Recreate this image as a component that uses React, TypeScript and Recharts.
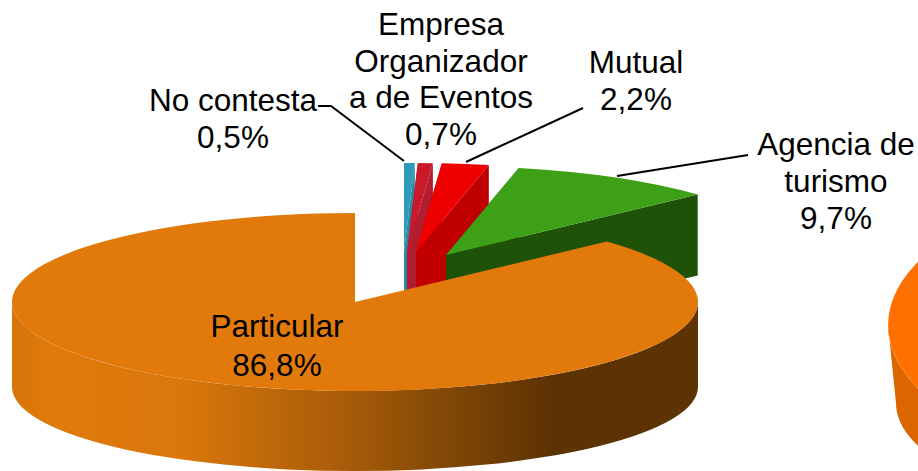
import { PieChart, Pie } from 'recharts';

const categories = ['No contesta', 'Empresa Organizador a de Eventos', 'Mutual', 'Agencia de turismo', 'Particular'];
const shares = [0.5, 0.7, 2.2, 9.7, 86.8];
const neighbourCategories = ['Otro'];
const neighbourShares = [100];

const topColors = ['#2E9BB9', '#C9192B', '#EE0000', '#3EA016', '#E17A0B'];
const wallColors = ['#2888A6', '#B11D2F', '#C00000', '#1F5209', 'url(#particularWall)'];

// where each exploded slice ended up, relative to the common centre
const CENTER_X = 405;
const CENTER_Y = 272;
const explodeX = [-1, 2, 11, 41, -50];
const explodeY = [-20, -20, -20, -17, 30];

const labelLines = [
  ['No contesta', '0,5%'],
  ['Empresa', 'Organizador', 'a de Eventos', '0,7%'],
  ['Mutual', '2,2%'],
  ['Agencia de', 'turismo', '9,7%'],
  ['Particular', '86,8%'],
];
const labelX = [233, 441, 636, 836, 277];
const labelTop = [111, 35, 73, 155, 337];
const labelStep = [37, 36.5, 37, 37, 39];
const leaders = ['318,106 331,106 404,161', '', '583,108 466,162', '748,155 617,176', ''];

const mainData = categories.map((name, i) => ({ name, value: shares[i], idx: i, fill: topColors[i] }));
const neighbourData = neighbourCategories.map((name, i) => ({ name, value: neighbourShares[i], fill: '#FF7000' }));

const RAD = Math.PI / 180;

interface SliceStyle {
  ry: number;
  radialH: number;
  wallH: number;
  bottomRx: number;
  bottomRy: number;
  dx: (i: number) => number;
  dy: (i: number) => number;
  wall: (i: number) => string;
}

// 3D slice: flattened top face, radial cuts and the front part of the rim
function makeSlice(st: SliceStyle) {
  return function Slice(props: any) {
    const { cx, cy, outerRadius: rx, startAngle, endAngle, fill, index } = props;
    const i = props.payload?.idx ?? index ?? 0;
    const x0 = cx + st.dx(i);
    const y0 = cy + st.dy(i);
    const ry = st.ry;
    const px = (a: number) => x0 + rx * Math.cos(a * RAD);
    const py = (a: number) => y0 - ry * Math.sin(a * RAD);
    const large = Math.abs(startAngle - endAngle) > 180 ? 1 : 0;
    const wall = st.wall(i);
    // the gradient wall only belongs on the rim, its cuts are hidden under the top face
    const cutFill = wall.startsWith('url') ? 'none' : wall;

    const cut = (a: number) =>
      `M${x0},${y0} L${px(a)},${py(a)} L${px(a)},${py(a) + st.radialH} L${x0},${y0 + st.radialH} Z`;

    let rim = '';
    for (const base of [-180, 180]) {
      const a1 = Math.min(startAngle, base + 180);
      const a2 = Math.max(endAngle, base);
      if (a1 > a2 && !rim) {
        const bx = (a: number) => x0 + st.bottomRx * Math.cos(a * RAD);
        const by = (a: number) => y0 + st.wallH - st.bottomRy * Math.sin(a * RAD);
        rim = `M${px(a1)},${py(a1)} A${rx},${ry} 0 0 1 ${px(a2)},${py(a2)} L${bx(a2)},${by(a2)} A${st.bottomRx},${st.bottomRy} 0 0 0 ${bx(a1)},${by(a1)} Z`;
      }
    }

    return (
      <g>
        <path d={cut(startAngle)} fill={cutFill} />
        <path d={cut(endAngle)} fill={cutFill} />
        {rim && <path d={rim} fill={wall} />}
        <path
          d={`M${x0},${y0} L${px(startAngle)},${py(startAngle)} A${rx},${ry} 0 ${large} 1 ${px(endAngle)},${py(endAngle)} Z`}
          fill={fill}
        />
      </g>
    );
  };
}

const MainSlice = makeSlice({
  ry: 89,
  radialH: 81,
  wallH: 85,
  bottomRx: 343,
  bottomRy: 84,
  dx: (i) => explodeX[i],
  dy: (i) => explodeY[i],
  wall: (i) => wallColors[i],
});

const NeighbourSlice = makeSlice({
  ry: 155,
  radialH: 0,
  wallH: 78,
  bottomRx: 335,
  bottomRy: 120,
  dx: () => 0,
  dy: () => 0,
  wall: () => '#DB6600',
});

function renderLabel(props: any) {
  const i = props.payload?.idx ?? props.index;
  return (
    <g>
      {leaders[i] && <polyline points={leaders[i]} fill="none" stroke="#000" strokeWidth={2} />}
      {labelLines[i].map((line, n) => (
        <text
          key={line}
          x={labelX[i]}
          y={labelTop[i] + n * labelStep[i]}
          textAnchor="middle"
          fontFamily="'Liberation Sans', Arial, sans-serif"
          fontSize={31.5}
          fill="#000"
        >
          {line}
        </text>
      ))}
    </g>
  );
}

export default function App() {
  return (
    <div style={{ position: 'fixed', left: 0, top: 0, width: 918, height: 471, overflow: 'hidden', background: '#fff' }}>
      <PieChart width={918} height={471} margin={{ top: 0, right: 0, bottom: 0, left: 0 }}>
        <defs>
          <linearGradient id="particularWall" gradientUnits="userSpaceOnUse" x1={12} y1={0} x2={698} y2={0}>
            <stop offset="0" stopColor="#D5740A" />
            <stop offset="0.05" stopColor="#E07A0B" />
            <stop offset="0.25" stopColor="#DA770B" />
            <stop offset="0.34" stopColor="#C56C0A" />
            <stop offset="0.5" stopColor="#A55A08" />
            <stop offset="0.62" stopColor="#844A06" />
            <stop offset="0.78" stopColor="#5E3304" />
            <stop offset="1" stopColor="#5E3304" />
          </linearGradient>
        </defs>
        <Pie
          data={neighbourData}
          dataKey="value"
          nameKey="name"
          cx={1231}
          cy={325}
          outerRadius={343}
          startAngle={270}
          endAngle={90}
          stroke="none"
          shape={NeighbourSlice}
          label={false}
          labelLine={false}
          isAnimationActive={false}
        />
        <Pie
          data={mainData}
          dataKey="value"
          nameKey="name"
          cx={CENTER_X}
          cy={CENTER_Y}
          innerRadius={0}
          outerRadius={343}
          startAngle={90}
          endAngle={-270}
          paddingAngle={0}
          stroke="none"
          shape={MainSlice}
          label={renderLabel}
          labelLine={false}
          isAnimationActive={false}
        />
      </PieChart>
    </div>
  );
}
